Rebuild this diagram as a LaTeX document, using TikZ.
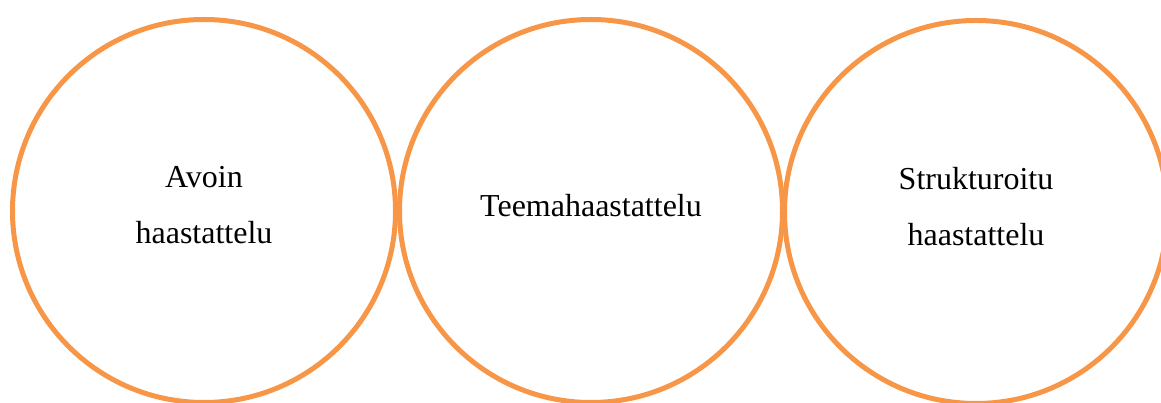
\documentclass[tikz,border=0pt]{standalone}
\usepackage{fontspec}
\setmainfont{Liberation Serif}
\definecolor{oranssi}{HTML}{F79646}
\tikzset{
  ympyra/.style={circle, draw=oranssi, line width=0.1cm, minimum size=7.66cm,
    inner sep=0pt},
  teksti/.style={align=center, yshift=0.11cm, font=\fontsize{18.2}{31.9}\selectfont}
}
\begin{document}
\begin{tikzpicture}
    \useasboundingbox (0, 0) rectangle (23.22, 8.06);
    
    % ympyrät
    \node[ympyra, label={[teksti]center:Avoin\\haastattelu}] (avoin) at (4.08, 3.84) {};
    \node[ympyra, label={[teksti]center:Teemahaastattelu}] (teema) at (11.82, 3.84) {};
    \node[ympyra, label={[teksti]center:Strukturoitu\\haastattelu}] (strukt) at (19.52, 3.82) {};
\end{tikzpicture}
\end{document}
